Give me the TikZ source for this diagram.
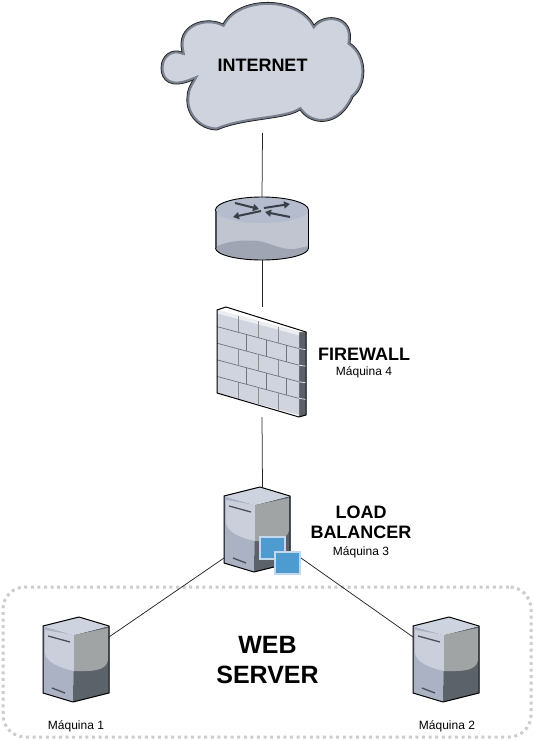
\documentclass[tikz,border=0pt]{standalone}
\usepackage{fontspec}
\setmainfont{Liberation Sans}
\usetikzlibrary{arrows.meta, positioning, calc}
\definecolor{cloudcolor}{RGB}{206, 211, 221}
\definecolor{cloudedge}{RGB}{122, 130, 146}
\definecolor{routertop}{RGB}{181, 188, 205}
\definecolor{routerbody}{RGB}{192, 197, 208}
\definecolor{routerlow}{RGB}{160, 165, 179}
\definecolor{arrowcolor}{RGB}{58, 62, 70}
\definecolor{brickcolor}{RGB}{208, 212, 222}
\definecolor{brickline}{RGB}{112, 116, 126}
\definecolor{wallside}{RGB}{92, 97, 105}
\definecolor{srvtop}{RGB}{206, 211, 224}
\definecolor{srvleft}{RGB}{170, 178, 196}
\definecolor{srvblob}{RGB}{203, 207, 220}
\definecolor{srvright}{RGB}{161, 164, 165}
\definecolor{srvdark}{RGB}{91, 98, 106}
\definecolor{srvbar}{RGB}{75, 80, 88}
\definecolor{winblue}{RGB}{78, 155, 208}
\definecolor{winedge}{RGB}{196, 216, 235}
\definecolor{groupedge}{RGB}{204, 204, 204}
\tikzset{
    serverpic/.pic={
        \fill[srvleft] (-33,-34) -- (-2,-25) -- (-3,42) -- (-33,33) -- cycle;
        \fill[srvdark] (-2,-25) -- (33,-34) -- (33,33) -- (-3,42) -- cycle;
        \fill[srvtop] (3,-43) -- (33,-34) -- (-2,-25) -- (-33,-34) -- cycle;
        \fill[srvblob] (-31,-30) -- (-2,-25) -- (-2,11) .. controls (-16,8) and (-31,2) .. (-31,-8) -- cycle;
        \fill[srvright] (-2,-25) -- (32,-32) -- (32,0) .. controls (31,8) and (22,11) .. (10,11) -- (-2,11) -- cycle;
        \draw[srvbar, line width=1.3pt] (-28,-24) -- (-6,-18);
        \draw[srvbar, line width=1.3pt] (-24,28) -- (-11,33);
        \draw[line width=1pt, line join=round] (3,-43) -- (33,-34) -- (33,33) -- (-3,42) -- (-33,33) -- (-33,-34) -- cycle;
    }
}
\begin{document}
\begin{tikzpicture}[
    x=1pt, y=-1pt,
    link/.style={draw=black!85!white, line width=0.75pt},
    iconbox/.style={inner sep=0pt, outer sep=0pt},
    title/.style={font=\fontsize{18}{21}\selectfont\bfseries, align=center, inner sep=0pt},
    small/.style={font=\fontsize{12}{14}\selectfont, inner sep=0pt},
    routerarrow/.style={draw=arrowcolor, line width=2pt, -{Triangle[length=6pt, width=7pt]}},
    window/.style={draw=winedge, fill=winblue, line width=2pt, minimum width=25pt, minimum height=22pt, inner sep=0pt},
]
    \useasboundingbox (0,0) rectangle (534,741);

    % Group box
    \node[iconbox, draw=groupedge, line width=3pt, dash pattern=on 3pt off 3.6pt, rounded corners=22pt, minimum width=528pt, minimum height=150pt] (group) at (267,662) {};

    % Cloud
    \def\cloudpath{(182,52) .. controls (175,25) and (205,15) .. (223,24)
        .. controls (238,-5) and (298,-5) .. (314,25)
        .. controls (325,12) and (355,15) .. (350,43)
        .. controls (368,55) and (368,85) .. (353,97)
        .. controls (340,127) and (312,127) .. (300,110)
        .. controls (285,120) and (245,118) .. (217,130)
        .. controls (200,130) and (185,115) .. (187,97)
        .. controls (187,90) and (190,85) .. (193,80)
        .. controls (170,90) and (161,80) .. (161,68)
        .. controls (161,55) and (172,48) .. (182,52) -- cycle}
    \fill[cloudcolor] \cloudpath;
    \begin{scope}
        \clip \cloudpath;
        \draw[cloudedge, line width=5pt] \cloudpath;
    \end{scope}
    \draw[black!85, line width=0.8pt] \cloudpath;
    \node[iconbox, title, minimum width=204pt, minimum height=136pt] (internet) at (262.5,65) {INTERNET};

    % Router
    \node[iconbox, minimum width=94pt, minimum height=63pt] (router) at (262,228.5) {};
    \fill[routerbody] (215.5,210) -- (215.5,248) arc[start angle=180, end angle=0, x radius=46.5, y radius=12] -- (308.5,210) -- cycle;
    \fill[routerlow] (215.5,247) .. controls (230,240) and (245,240) .. (258,241) .. controls (272,243) and (280,250) .. (295,249) -- (308.5,246) -- (308.5,248) arc[start angle=0, end angle=180, x radius=46.5, y radius=12] -- cycle;
    \fill[routertop] (262,210) ellipse[x radius=46.5, y radius=13];
    \draw[black, line width=0.9pt] (215.5,210) arc[start angle=180, end angle=360, x radius=46.5, y radius=13] -- (308.5,248) arc[start angle=0, end angle=180, x radius=46.5, y radius=12] -- cycle;
    \draw[srvbar, line width=1.2pt] (216,211) -- (216,248);
    \draw[routerarrow] (235,203) -- (259,209);
    \draw[routerarrow] (261,211) -- (233,217);
    \draw[routerarrow] (264,208) -- (290,204);
    \draw[routerarrow] (290,217) -- (265,212);

    % Firewall
    \node[iconbox, minimum width=90pt, minimum height=110pt] (firewall) at (262,362) {};
    \fill[wallside] (299,332) -- (306,332) -- (306,415) -- (299,417) -- cycle;
    \fill[white] (217,310) -- (226,307) -- (306,332) -- (299,332) -- cycle;
    \begin{scope}[shift={(217,310)}, x={(20.5pt,-5.5pt)}, y={(0pt,-16.6pt)}]
        \fill[brickcolor] (0,0) -- (4,0) -- (4,5) -- (0,5) -- cycle;
        \fill[white!60!brickcolor] (0,0) -- (4,0) -- (4,0.2) -- (0,0.2) -- cycle;
        \foreach \row in {1,...,4}
            \draw[brickline, line width=0.7pt] (0,\row) -- (4,\row);
        \foreach \col in {1.05,2,3} {
            \draw[black!45, line width=1pt] (\col,0) -- (\col,1);
            \draw[black!45, line width=1pt] (\col,2) -- (\col,3);
            \draw[black!45, line width=1pt] (\col,4) -- (\col,5);
        }
        \foreach \col in {1.45,2.42,3.39} {
            \draw[brickline, line width=0.7pt] (\col,1) -- (\col,2);
            \draw[brickline, line width=0.7pt] (\col,3) -- (\col,4);
        }
        \foreach \row in {1,...,4}
            \draw[white!70!brickcolor, line width=0.7pt] (4,\row) -- (4.33,\row-0.05);
    \end{scope}
    \draw[black, line width=1pt, line join=round] (217,310) -- (226,307) -- (306,332) -- (306,415) -- (299,417) -- (217,393) -- cycle;
    \node[title] (fwtitle) at (364,354) {FIREWALL};
    \node[small] (fwhost) at (364,372) {Máquina 4};

    % Load balancer
    \node[iconbox, minimum width=77pt, minimum height=88pt] (balancer) at (262.5,531) {};
    \pic at (257,530) {serverpic};
    \node[window] (win1) at (272.5,548) {};
    \node[window] (win2) at (287.5,563) {};
    \node[title] (lbtitle) at (361,522.5) {LOAD\\[-0.5pt]BALANCER};
    \node[small] (lbhost) at (361,552) {Máquina 3};

    % Web servers
    \node[iconbox, minimum width=66pt, minimum height=86pt] (server1) at (76,660) {};
    \pic at (76,660) {serverpic};
    \node[small] (host1) at (76,726) {Máquina 1};
    \node[iconbox, minimum width=66pt, minimum height=86pt] (server2) at (446,660) {};
    \pic at (446,660) {serverpic};
    \node[small] (host2) at (447,726) {Máquina 2};
    \node[iconbox, font=\fontsize{25}{30}\selectfont\bfseries, align=center] (webtitle) at (267.5,660) {WEB\\SERVER};

    % Links
    \draw[link] (internet.south) -- (router.north);
    \draw[link] (router.south) -- (firewall.north);
    \draw[link] (firewall.south) -- (balancer.north);
    \draw[link] ([yshift=-27pt]balancer.west) -- ([yshift=23pt]server1.east);
    \draw[link] ([yshift=-27pt]balancer.east) -- ([yshift=23pt]server2.west);
\end{tikzpicture}
\end{document}
